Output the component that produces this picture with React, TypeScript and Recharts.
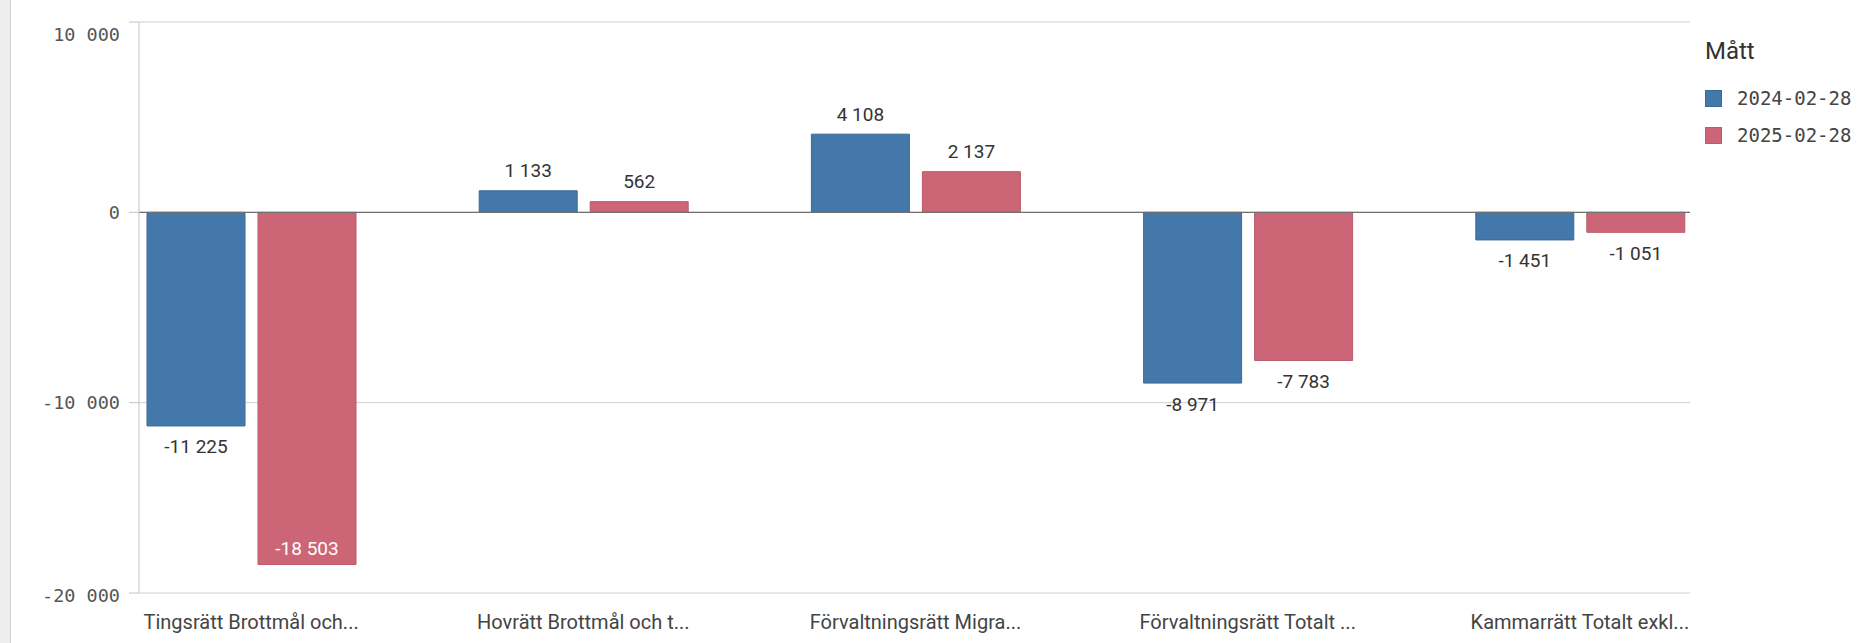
import React from 'react';
import { BarChart, Bar, XAxis, YAxis, CartesianGrid, ReferenceLine, LabelList } from 'recharts';

const categories = [
  'Tingsrätt Brottmål och...',
  'Hovrätt Brottmål och t...',
  'Förvaltningsrätt Migra...',
  'Förvaltningsrätt Totalt ...',
  'Kammarrätt Totalt exkl...',
];
const series2024 = [-11225, 1133, 4108, -8971, -1451];
const series2025 = [-18503, 562, 2137, -7783, -1051];
const seriesNames = ['2024-02-28', '2025-02-28'];
const yTicks = [-20000, -10000, 0, 10000];
const legendTitle = 'Mått';

const BLUE = '#4477aa';
const RED = '#cc6677';

const data = categories.map((c, i) => ({ name: c, s2024: series2024[i], s2025: series2025[i] }));

const W = 1859;
const H = 643;
const PLOT_TOP = 22;
const PLOT_BOTTOM = 593;
const PLOT_LEFT = 139;
const PLOT_RIGHT = 1690;

const fmt = (v: number) => {
  const s = Math.abs(Math.round(v)).toString().replace(/\B(?=(\d{3})+(?!\d))/g, ' ');
  return (v < 0 ? '-' : '') + s;
};

const BarLabel = (props: any) => {
  const { x, y, width, height, value } = props;
  const top = Math.min(y, y + height);
  const bottom = Math.max(y, y + height);
  const cx = x + width / 2;
  let ty: number;
  let fill = '#333';
  if (value >= 0) {
    ty = top - 20;
  } else if (bottom + 36 > PLOT_BOTTOM) {
    ty = bottom - 16;
    fill = '#fff';
  } else {
    ty = bottom + 21;
  }
  return (
    <text x={cx} y={ty} textAnchor="middle" dominantBaseline="central" fill={fill}
      style={{ fontFamily: 'Roboto', fontSize: 19 }}>
      {fmt(value)}
    </text>
  );
};

const YTick = (props: any) => {
  const { x, y, payload } = props;
  const dy = payload.value === 10000 ? 12 : payload.value === -20000 ? 2 : 0;
  return (
    <text x={x} y={y + dy} textAnchor="end" dominantBaseline="central" fill="#555"
      style={{ fontFamily: 'DejaVu Sans Mono', fontSize: 18.5 }}>
      {fmt(payload.value)}
    </text>
  );
};

const XTick = (props: any) => {
  const { x, payload } = props;
  return (
    <text x={x} y={622} textAnchor="middle" dominantBaseline="central" fill="#444"
      style={{ fontFamily: 'Roboto', fontSize: 20 }}>
      {payload.value}
    </text>
  );
};

export default function App() {
  return (
    <div style={{ position: 'absolute', left: 0, top: 0, width: W, height: H, background: '#fff', overflow: 'hidden' }}>
      <div style={{ position: 'absolute', left: 0, top: 0, width: 10, height: H, background: '#eeeeee', borderRight: '1px solid #d0d0d0' }} />
      <BarChart
        width={W}
        height={H}
        data={data}
        margin={{ top: PLOT_TOP, right: W - PLOT_RIGHT, bottom: 0, left: 0 }}
        barSize={98}
        barGap={13}
      >
        <CartesianGrid vertical={false} stroke="#cfcfcf" horizontalValues={yTicks} />
        <XAxis
          dataKey="name"
          axisLine={false}
          tickLine={false}
          interval={0}
          padding={{ left: -54, right: -56 }}
          tick={<XTick />}
          height={H - PLOT_BOTTOM}
        />
        <YAxis
          type="number"
          domain={[-20000, 10000]}
          ticks={yTicks}
          width={PLOT_LEFT}
          axisLine={{ stroke: '#c4c4c4' }}
          tickLine={{ stroke: '#c4c4c4' }}
          tickSize={10}
          tickMargin={9}
          tick={<YTick />}
          interval={0}
        />
        <ReferenceLine y={0} stroke="#707070" strokeWidth={1.2} />
        <Bar dataKey="s2024" fill={BLUE} stroke="#3b6a99" strokeWidth={1} isAnimationActive={false}>
          <LabelList dataKey="s2024" content={<BarLabel />} />
        </Bar>
        <Bar dataKey="s2025" fill={RED} stroke="#bb5b6b" strokeWidth={1} isAnimationActive={false}>
          <LabelList dataKey="s2025" content={<BarLabel />} />
        </Bar>
      </BarChart>
      <div style={{ position: 'absolute', left: 1705, top: 36, fontFamily: 'Roboto', fontSize: 24, color: '#333', lineHeight: '30px' }}>
        {legendTitle}
      </div>
      {seriesNames.map((n, i) => (
        <div key={n} style={{ position: 'absolute', left: 1705, top: 86 + i * 37, height: 24, display: 'flex', alignItems: 'center' }}>
          <div style={{ width: 17, height: 17, background: i === 0 ? BLUE : RED, border: `1px solid ${i === 0 ? '#3b6a99' : '#bb5b6b'}`, boxSizing: 'border-box' }} />
          <span style={{ marginLeft: 15, fontFamily: 'DejaVu Sans Mono', fontSize: 19, color: '#444', whiteSpace: 'nowrap' }}>{n}</span>
        </div>
      ))}
    </div>
  );
}
